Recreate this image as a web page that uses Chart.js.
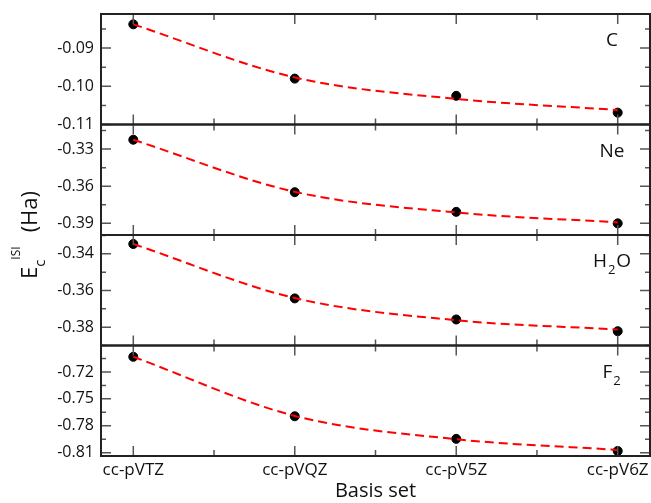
<!DOCTYPE html>
<html>
<head>
<meta charset="utf-8">
<script src="https://cdn.jsdelivr.net/npm/chart.js@4.4.0/dist/chart.umd.min.js"></script>
<style>
  html, body { margin: 0; padding: 0; background: #fff; }
  #wrap { width: 651px; height: 503px; }
</style>
</head>
<body>
<div id="wrap"><canvas id="grafico" width="651" height="503"></canvas></div>
<script>
// Bases (eixo x compartilhado)
const categories = ["cc-pVTZ", "cc-pVQZ", "cc-pV5Z", "cc-pV6Z"];

// Valores calculados (pontos pretos)
const cPoints = [-0.0838, -0.0980, -0.1025, -0.1069];
const nePoints = [-0.3224, -0.3648, -0.3807, -0.3900];
const h2oPoints = [-0.3346, -0.3643, -0.3758, -0.3822];
const f2Points = [-0.7031, -0.7694, -0.7946, -0.8081];

// Curva de ajuste (tracejado vermelho)
const cFit = [-0.0838, -0.0977, -0.1033, -0.1062];
const neFit = [-0.3224, -0.3645, -0.3812, -0.3892];
const h2oFit = [-0.3346, -0.3641, -0.3762, -0.3813];
const f2Fit = [-0.7031, -0.7690, -0.7950, -0.8069];

// Paineis e escalas
const panelNames = ["C", "Ne", "H2O", "F2"];
const axisMin = [-0.11, -0.3994, -0.39, -0.8137];
const axisMax = [-0.0811, -0.3101, -0.3297, -0.6905];
const tickStep = [0.005, 0.015, 0.01, 0.015];
const majorStep = [0.01, 0.03, 0.02, 0.03];

const axisIds = ["yC", "yNe", "yH2O", "yF2"];
const pontos = [cPoints, nePoints, h2oPoints, f2Points];
const ajustes = [cFit, neFit, h2oFit, f2Fit];

Chart.defaults.font.family = "'Open Sans', sans-serif";
Chart.defaults.color = "#111";

const datasets = [];
axisIds.forEach((id, i) => {
  datasets.push({
    label: panelNames[i],
    data: pontos[i].map((v, k) => ({ x: k + 1, y: v })),
    yAxisID: id,
    showLine: false,
    pointRadius: 4.5,
    pointBackgroundColor: "#000",
    pointBorderColor: "#000",
    order: 2
  });
  datasets.push({
    label: panelNames[i] + " ajuste",
    data: ajustes[i].map((v, k) => ({ x: k + 1, y: v })),
    yAxisID: id,
    borderColor: "#ff0000",
    borderWidth: 2,
    borderDash: [9, 5],
    pointRadius: 0,
    cubicInterpolationMode: "monotone",
    fill: false,
    order: 1
  });
});

const scales = {
  x: {
    type: "linear",
    position: "bottom",
    min: 0.8,
    max: 4.2,
    grid: { display: false, drawTicks: false },
    border: { display: false },
    ticks: {
      stepSize: 0.5,
      includeBounds: false,
      autoSkip: false,
      maxRotation: 0,
      padding: 4,
      font: { size: 17 },
      callback: v => Number.isInteger(v) ? categories[v - 1] : ""
    },
    title: { display: true, text: "Basis set", font: { size: 20 }, padding: 0 },
    afterFit: s => {
      s.height = 47;
      s.paddingLeft = 0;
      s.paddingRight = 0;
    }
  }
};

axisIds.forEach((id, i) => {
  scales[id] = {
    type: "linear",
    position: "left",
    stack: "paineis",
    stackWeight: 1,
    weight: axisIds.length - i,
    min: axisMin[i],
    max: axisMax[i],
    grid: { display: false, drawTicks: false },
    border: { display: false },
    ticks: {
      stepSize: tickStep[i],
      includeBounds: false,
      autoSkip: false,
      padding: 7,
      font: { size: 16 },
      callback: v => {
        const r = v / majorStep[i];
        return Math.abs(r - Math.round(r)) < 1e-6 ? v.toFixed(2) : "";
      }
    },
    afterFit: s => {
      s.width = 101;
      s.paddingTop = 0;
      s.paddingBottom = 0;
    }
  };
});

// Molduras, marcas internas e rotulos
const molduraPlugin = {
  id: "moldura",
  afterDraw(chart) {
    const ctx = chart.ctx;
    const ca = chart.chartArea;
    const xs = chart.scales.x;
    ctx.save();

    axisIds.forEach((id, i) => {
      const s = chart.scales[id];

      // marcas
      ctx.strokeStyle = "#555";
      ctx.lineWidth = 1.5;
      ctx.beginPath();
      s.ticks.forEach(t => {
        const y = s.getPixelForValue(t.value);
        const len = t.label ? 10 : 5;
        ctx.moveTo(ca.left, y); ctx.lineTo(ca.left + len, y);
        ctx.moveTo(ca.right, y); ctx.lineTo(ca.right - len, y);
      });
      xs.ticks.forEach(t => {
        const x = xs.getPixelForValue(t.value);
        const len = t.label ? 10 : 6;
        ctx.moveTo(x, s.top); ctx.lineTo(x, s.top + len);
        ctx.moveTo(x, s.bottom); ctx.lineTo(x, s.bottom - len);
      });
      ctx.stroke();

      // moldura do painel
      ctx.strokeStyle = "#222";
      ctx.lineWidth = 2;
      ctx.strokeRect(ca.left, s.top, ca.right - ca.left, s.bottom - s.top);

      // nome do sistema, com digitos em subscrito
      const partes = panelNames[i].match(/\d+|\D+/g);
      const fonteN = "19px 'Open Sans', sans-serif";
      const fonteS = "13px 'Open Sans', sans-serif";
      let total = 0;
      partes.forEach(p => {
        ctx.font = /\d/.test(p) ? fonteS : fonteN;
        total += ctx.measureText(p).width + (/\d/.test(p) ? 2 : 0);
      });
      let x = ca.right - 38 - total / 2;
      const base = s.top + 32;
      ctx.fillStyle = "#111";
      ctx.textAlign = "left";
      ctx.textBaseline = "alphabetic";
      partes.forEach(p => {
        const sub = /\d/.test(p);
        ctx.font = sub ? fonteS : fonteN;
        if (sub) x += 1;
        ctx.fillText(p, x, sub ? base + 7 : base);
        x += ctx.measureText(p).width + (sub ? 1 : 0);
      });
    });

    // titulo do eixo y: E_c^ISI (Ha)
    const cy = (ca.top + ca.bottom) / 2;
    const fE = "22px 'Open Sans', sans-serif";
    const fc = "15px 'Open Sans', sans-serif";
    const fI = "12px 'Open Sans', sans-serif";
    ctx.font = fE; const wE = ctx.measureText("E").width;
    const wH = ctx.measureText("(Ha)").width;
    ctx.font = fc; const wc = ctx.measureText("c").width;
    ctx.font = fI; const wI = ctx.measureText("ISI").width;
    const gap = 14;
    const totalT = wE + wc + wI + gap + wH;
    ctx.translate(37, cy);
    ctx.rotate(-Math.PI / 2);
    ctx.fillStyle = "#111";
    let rx = -totalT / 2;
    ctx.font = fE; ctx.fillText("E", rx, 0); rx += wE;
    ctx.font = fc; ctx.fillText("c", rx, 8); rx += wc;
    ctx.font = fI; ctx.fillText("ISI", rx, -17); rx += wI + gap;
    ctx.font = fE; ctx.fillText("(Ha)", rx, 0);

    ctx.restore();
  }
};

new Chart(document.getElementById("grafico"), {
  type: "line",
  data: { datasets },
  options: {
    responsive: false,
    animation: false,
    layout: { autoPadding: false, padding: { top: 14, right: 1, left: 0, bottom: 0 } },
    plugins: { legend: { display: false }, tooltip: { enabled: false } },
    scales
  },
  plugins: [molduraPlugin]
});
</script>
</body>
</html>
